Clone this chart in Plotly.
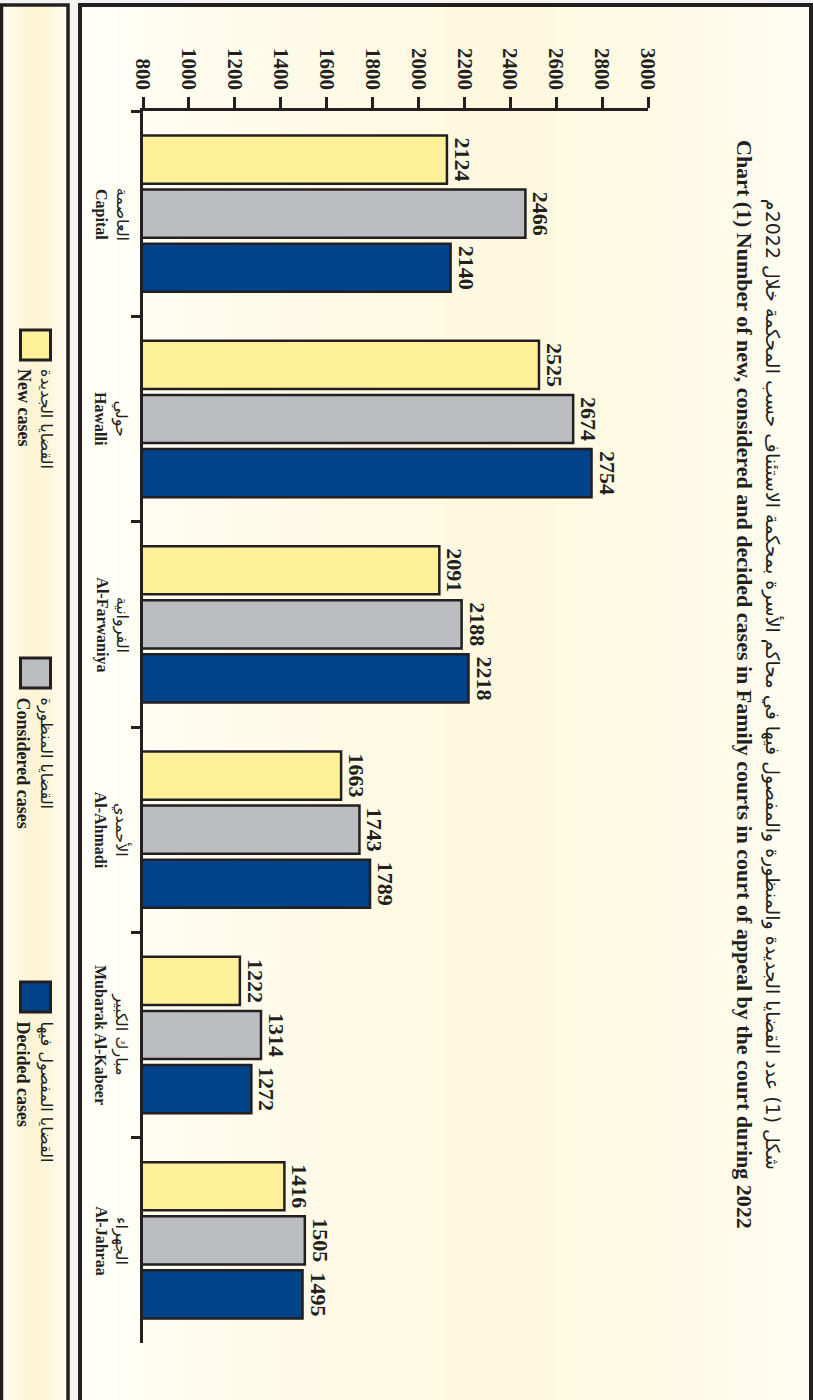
import plotly.graph_objects as go

# ---------------- data ----------------
categories_en = ["Capital", "Hawalli", "Al-Farwaniya", "Al-Ahmadi", "Mubarak Al-Kabeer", "Al-Jahraa"]
categories_ar = ["العاصمة", "حولي", "الفروانية", "الأحمدي", "مبارك الكبير", "الجهراء"]
new_cases = [2124, 2525, 2091, 1663, 1222, 1416]
considered_cases = [2466, 2674, 2188, 1743, 1314, 1505]
decided_cases = [2140, 2754, 2218, 1789, 1272, 1495]
series_en = ["New cases", "Considered cases", "Decided cases"]
series_ar = ["القضايا الجديدة", "القضايا المنظورة", "القضايا المفصول فيها"]
tick_values = [800, 1000, 1200, 1400, 1600, 1800, 2000, 2200, 2400, 2600, 2800, 3000]
title_ar = "شكل (1) عدد القضايا الجديدة والمنظورة والمفصول فيها في محاكم الأسرة بمحكمة الاستئناف حسب المحكمة خلال 2022م"
title_en = "Chart (1) Number of new, considered and decided cases in Family courts in court of appeal by the court during 2022"

# ---------------- style ----------------
W, H = 813, 1400
OFF = 0  # body margin removed by post_script
L, R, T, B = 143, 648, 111, 1343  # plot area in page pixels
INK = "#231f20"
colors = ["#fff09a", "#bcbdc0", "#004388"]
SERIF = "Liberation Serif, Times New Roman, DejaVu Serif, serif"
ARAB = "DejaVu Sans"


def px(x):
    return (x - L) / (R - L)


def py(y):
    return (B - y) / (B - T)


cat_keys = [f"{a}|{e}" for a, e in zip(categories_ar, categories_en)]
series_values = [new_cases, considered_cases, decided_cases]

fig = go.Figure()
for name, vals, col in zip(series_en, series_values, colors):
    fig.add_trace(go.Bar(
        y=cat_keys, x=vals, orientation="h", name=name,
        marker=dict(color=col, line=dict(color=INK, width=2.5)),
        text=[str(v) for v in vals], textposition="outside", textangle=90,
        constraintext="none", cliponaxis=False, hoverinfo="skip",
        textfont=dict(family=SERIF, size=22, color=INK, weight="bold"),
        showlegend=False,
    ))

shapes = []


def hexmix(c1, c2, t):
    a = [int(c1[i:i + 2], 16) for i in (1, 3, 5)]
    b = [int(c2[i:i + 2], 16) for i in (1, 3, 5)]
    return "#" + "".join(f"{round(a[k] + (b[k] - a[k]) * t):02x}" for k in range(3))


WHITE = "#fffffa"
BEIGE = "#fef8df"
profile = [(80, 0.0), (200, 0.45), (350, 0.8), (500, 1.0), (650, 0.8), (760, 0.45), (813, 0.2)]
step = 6
xcur = 80
while xcur < 813:
    xm = xcur + step / 2
    t = 0
    for (x0, t0), (x1, t1) in zip(profile[:-1], profile[1:]):
        if x0 <= xm <= x1:
            t = t0 + (t1 - t0) * (xm - x0) / (x1 - x0)
            break
    shapes.append(dict(type="rect", xref="paper", yref="paper", layer="below",
                       x0=px(xcur), x1=px(min(xcur + step + 1, 813)), y0=py(1420), y1=py(5),
                       fillcolor=hexmix(WHITE, BEIGE, t), line=dict(width=0)))
    xcur += step
lprofile = [(0, 0.2), (35, 1.0), (70, 0.2)]
xcur = 0
while xcur < 68:
    xm = xcur + 2
    t = 0
    for (x0, t0), (x1, t1) in zip(lprofile[:-1], lprofile[1:]):
        if x0 <= xm <= x1:
            t = t0 + (t1 - t0) * (xm - x0) / (x1 - x0)
            break
    shapes.append(dict(type="rect", xref="paper", yref="paper", layer="below",
                       x0=px(xcur), x1=px(xcur + 5), y0=py(1420), y1=py(5),
                       fillcolor=hexmix(WHITE, "#fdf3d2", t), line=dict(width=0)))
    xcur += 4
# panel borders
shapes.append(dict(type="rect", xref="paper", yref="paper", layer="above",
                   x0=px(80), x1=px(811), y0=py(1430), y1=py(5),
                   fillcolor="rgba(0,0,0,0)", line=dict(color=INK, width=4)))
shapes.append(dict(type="rect", xref="paper", yref="paper", layer="above",
                   x0=px(1.5), x1=px(68), y0=py(1430), y1=py(5),
                   fillcolor="rgba(0,0,0,0)", line=dict(color=INK, width=3.5)))

annotations = []
for key, a, e in zip(cat_keys, categories_ar, categories_en):
    annotations.append(dict(
        xref="paper", yref="y", x=px(112), y=key, xanchor="center", yanchor="middle",
        text=f"<span style='font-family:{ARAB};font-size:16px'>{a}</span><br><b>{e}</b>",
        textangle=90, showarrow=False, align="center",
        font=dict(family=SERIF, size=16, color=INK)))
annotations.append(dict(
    xref="paper", yref="paper", x=px(758), y=py(684), xanchor="center", yanchor="middle",
    text=f"<span style='font-family:{ARAB};font-size:19px'>{title_ar}</span><br><b>{title_en}</b>",
    textangle=90, showarrow=False, align="center",
    font=dict(family=SERIF, size=22, color=INK)))

legend_sq_top = [329, 657, 981]
for (ne, na), col, top in zip(zip(series_en, series_ar), colors, legend_sq_top):
    shapes.append(dict(type="rect", xref="paper", yref="paper", layer="above",
                       x0=px(20.5), x1=px(50.5), y0=py(top + 31), y1=py(top + 1),
                       fillcolor=col, line=dict(color=INK, width=3)))
    annotations.append(dict(
        xref="paper", yref="paper", x=px(35), y=py(top + 38), xanchor="center", yanchor="top",
        text=f"<span style='font-family:{ARAB};font-size:16px'>{na}</span><br><b>{ne}</b>",
        textangle=90, showarrow=False, align="left",
        font=dict(family=SERIF, size=18, color=INK)))

fig.update_layout(
    width=W, height=H, autosize=False,
    margin=dict(l=L - OFF, r=W - (R - OFF), t=T - OFF, b=H - (B - OFF), pad=0),
    paper_bgcolor="#f3f3f1", plot_bgcolor="rgba(0,0,0,0)",
    barmode="group", bargap=0.21, bargroupgap=0.11,
    shapes=shapes, annotations=annotations,
    xaxis=dict(side="top", range=[800, 3000], tickvals=tick_values,
               ticktext=[str(v) for v in tick_values], tickangle=90,
               ticks="outside", ticklen=11, tickwidth=2.5, tickcolor=INK,
               showline=True, linewidth=2.5, linecolor=INK, showgrid=False, zeroline=False,
               tickfont=dict(family=SERIF, size=21, color=INK, weight="bold")),
    yaxis=dict(type="category", autorange="reversed", categoryorder="array", categoryarray=cat_keys,
               tickson="boundaries", ticks="outside", ticklen=9, tickwidth=2.5, tickcolor=INK,
               showline=True, linewidth=2.5, linecolor=INK, showgrid=False, zeroline=False,
               showticklabels=False),
)

fig.write_html("out.html", config={"displayModeBar": False},
               post_script="document.body.style.margin='0px';")
